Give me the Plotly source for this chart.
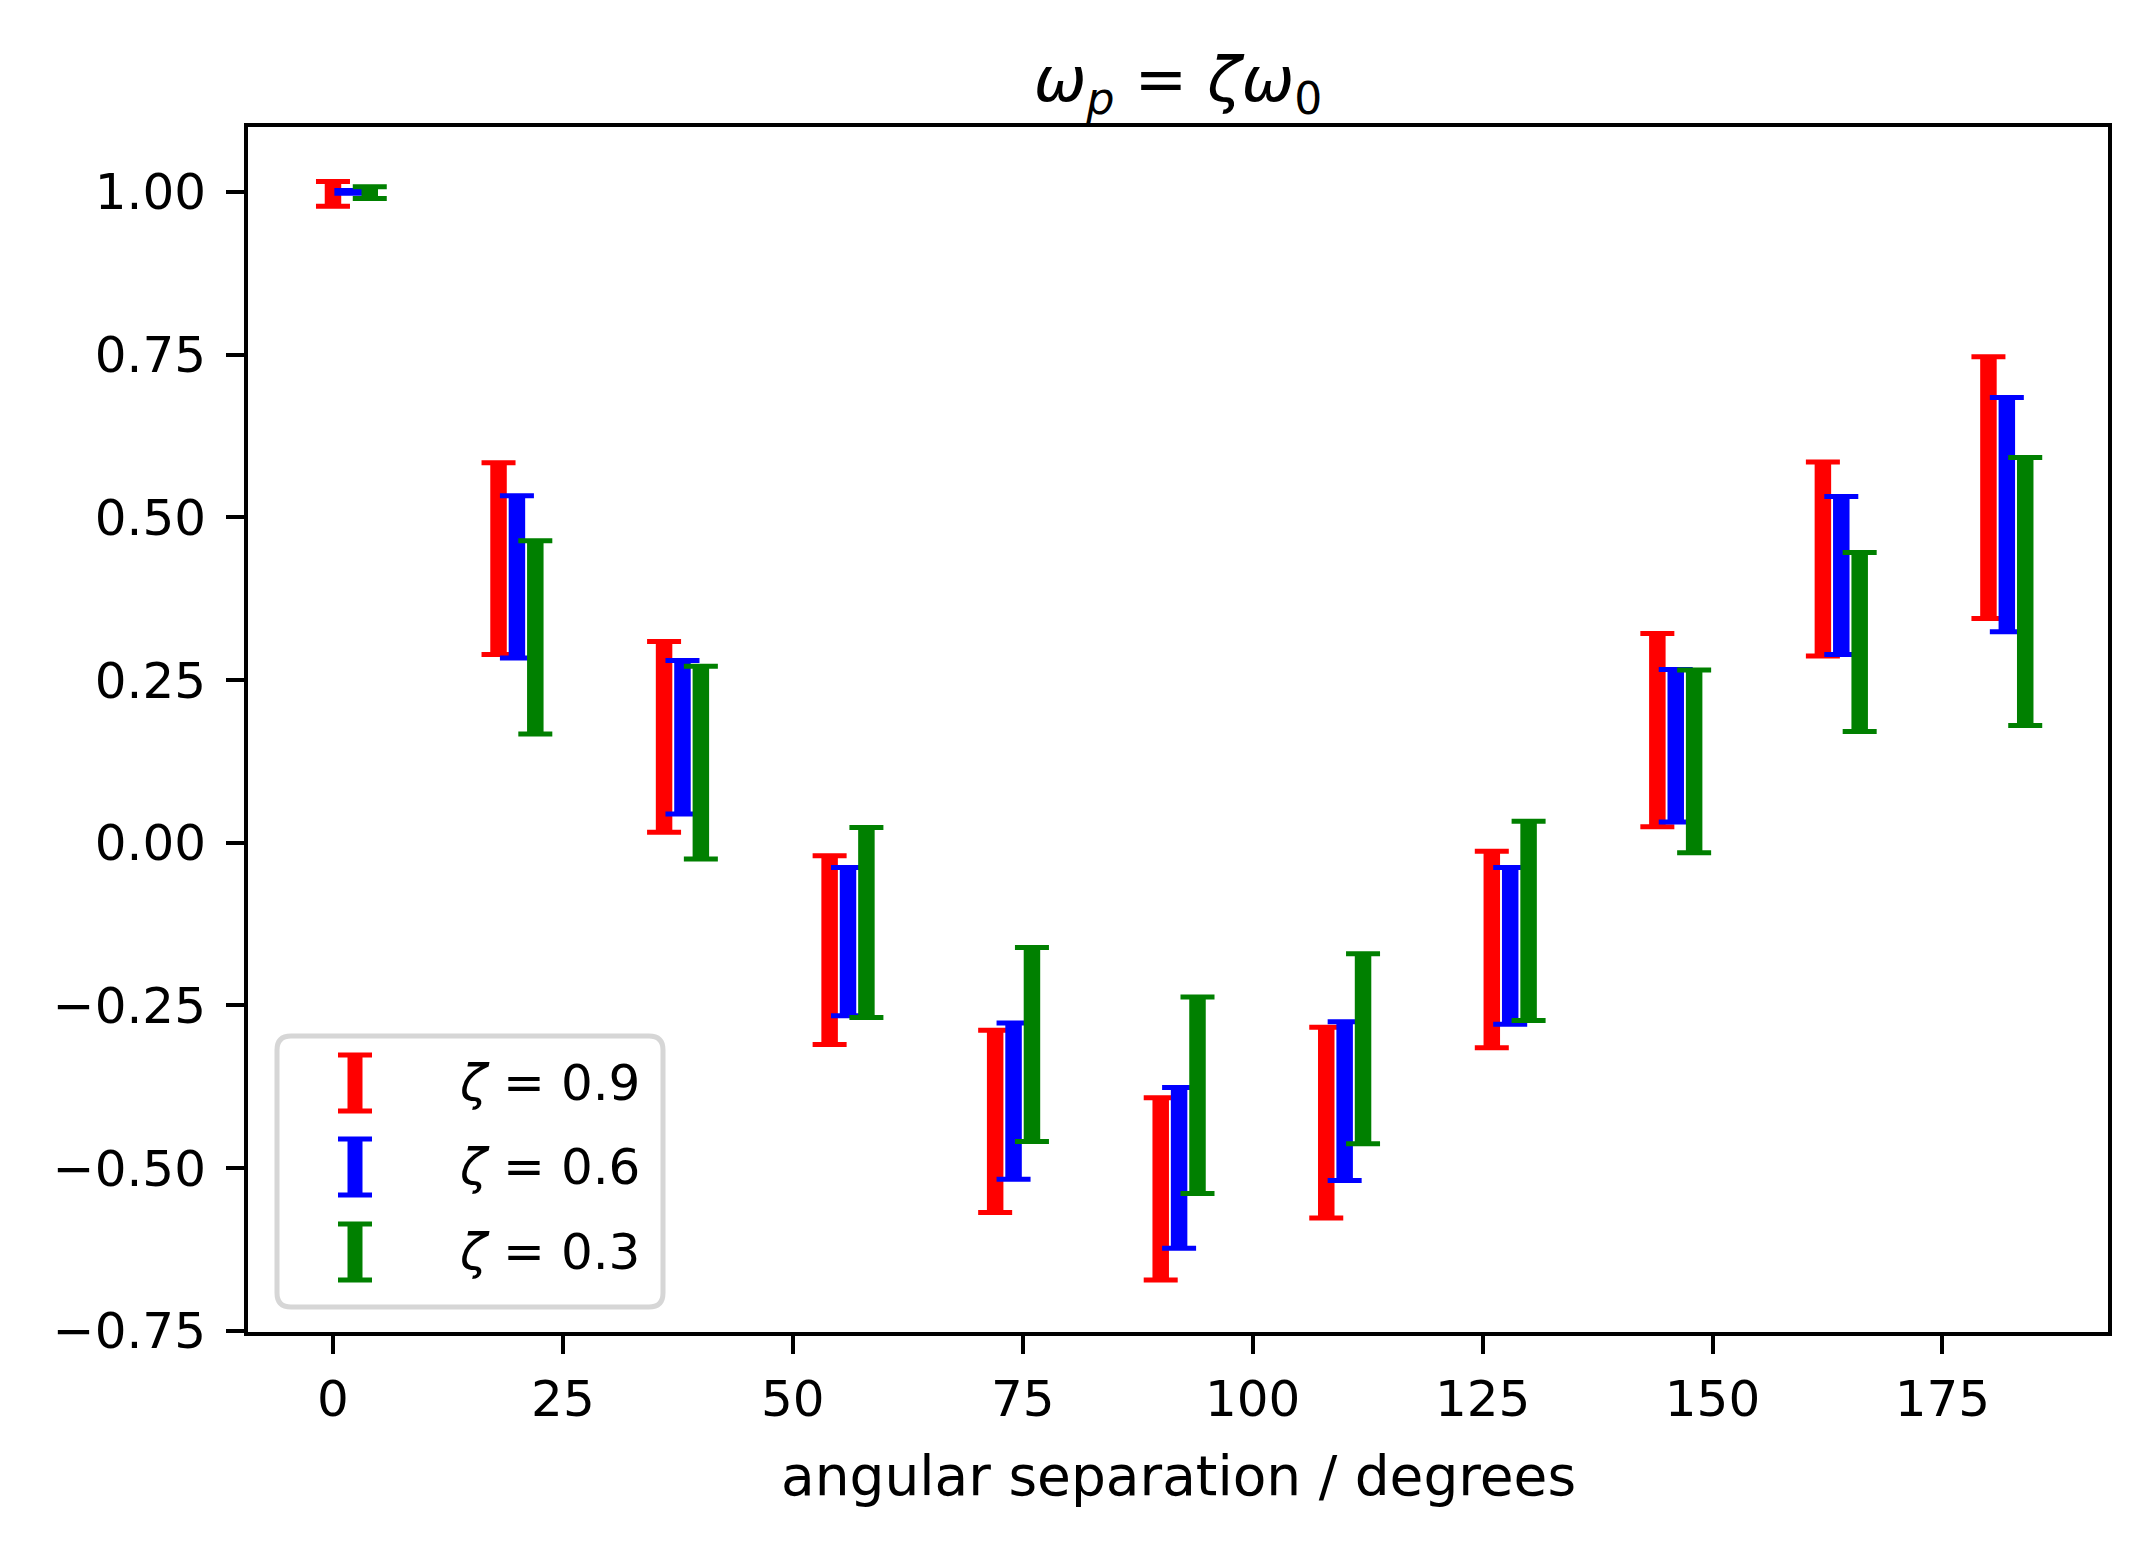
import plotly.graph_objects as go

# angular separation (degrees), each series shifted so the bars do not overlap
x_zeta09 = [0, 18, 36, 54, 72, 90, 108, 126, 144, 162, 180]
x_zeta06 = [2, 20, 38, 56, 74, 92, 110, 128, 146, 164, 182]
x_zeta03 = [4, 22, 40, 58, 76, 94, 112, 130, 148, 166, 184]

# correlation and its error
y_zeta09 = [0.997, 0.4365, 0.1625, -0.165, -0.428, -0.532, -0.430, -0.164, 0.173, 0.436, 0.5455]
e_zeta09 = [0.019, 0.1475, 0.1465, 0.145, 0.140, 0.140, 0.1465, 0.151, 0.1485, 0.149, 0.201]
y_zeta06 = [1.000, 0.4085, 0.162, -0.152, -0.397, -0.4995, -0.397, -0.1585, 0.149, 0.4105, 0.504]
e_zeta06 = [0.002, 0.1245, 0.118, 0.114, 0.120, 0.1235, 0.122, 0.1205, 0.117, 0.1215, 0.180]
y_zeta03 = [0.999, 0.3155, 0.123, -0.1225, -0.310, -0.388, -0.3167, -0.120, 0.125, 0.3085, 0.386]
e_zeta03 = [0.009, 0.1485, 0.148, 0.146, 0.149, 0.151, 0.146, 0.153, 0.1405, 0.1375, 0.206]

series_names = ["<i>ζ</i> = 0.9", "<i>ζ</i> = 0.6", "<i>ζ</i> = 0.3"]
series_colors = ["#ff0000", "#0000ff", "#008000"]

x_tickvals = [0, 25, 50, 75, 100, 125, 150, 175]
y_tickvals = [-0.75, -0.5, -0.25, 0.0, 0.25, 0.5, 0.75, 1.0]
y_ticktext = ["\u22120.75", "\u22120.50", "\u22120.25", "0.00", "0.25", "0.50", "0.75", "1.00"]

# the page body has an 8px margin, so the figure is a bit smaller than the window
OFF = 8
W, H = 2149 - OFF, 1544 - OFF
L, R, T, B = 240, 41, 119, 212
PW, PH = W - L - R, H - T - B
FONT = "DejaVu Sans"

fig = go.Figure()

series = [(x_zeta09, y_zeta09, e_zeta09), (x_zeta06, y_zeta06, e_zeta06), (x_zeta03, y_zeta03, e_zeta03)]
for (xs, ys, es), name, col in zip(series, series_names, series_colors):
    # thick bar without caps
    fig.add_trace(go.Scatter(x=xs, y=ys, mode="markers", name=name, showlegend=False,
                             marker=dict(size=1, color="rgba(0,0,0,0)"),
                             error_y=dict(type="data", array=es, visible=True,
                                          color=col, thickness=16.5, width=0),
                             hoverinfo="skip"))
    # thin caps
    fig.add_trace(go.Scatter(x=xs, y=ys, mode="markers", name=name, showlegend=False,
                             marker=dict(size=1, color="rgba(0,0,0,0)"),
                             error_y=dict(type="data", array=es, visible=True,
                                          color=col, thickness=5, width=17),
                             hoverinfo="skip"))

# hand-made legend (matplotlib style "I" symbols), positions given in screen px
def px_x(p):
    return (p - OFF - L) / PW

def px_y(p):
    return (H - B - (p - OFF)) / PH

bx0, bx1, by0, by1, r = 277, 663, 1036, 1307, 14
x0, x1, y0, y1 = px_x(bx0), px_x(bx1), px_y(by1), px_y(by0)
rx, ry = r / PW, r / PH
path = (f"M {x0 + rx},{y0} L {x1 - rx},{y0} Q {x1},{y0} {x1},{y0 + ry} "
        f"L {x1},{y1 - ry} Q {x1},{y1} {x1 - rx},{y1} L {x0 + rx},{y1} "
        f"Q {x0},{y1} {x0},{y1 - ry} L {x0},{y0 + ry} Q {x0},{y0} {x0 + rx},{y0} Z")
fig.add_shape(type="path", path=path, xref="paper", yref="paper",
              line=dict(color="#d6d6d6", width=5), fillcolor="rgba(255,255,255,0.8)", layer="above")

row_y = [1083, 1167, 1252]
sym_x = 355
for py, name, col in zip(row_y, series_names, series_colors):
    cy = px_y(py)
    hh = 28 / PH
    fig.add_shape(type="line", xref="paper", yref="paper", x0=px_x(sym_x), x1=px_x(sym_x),
                  y0=cy - hh, y1=cy + hh, line=dict(color=col, width=15), layer="above")
    for dy in (-hh, hh):
        fig.add_shape(type="line", xref="paper", yref="paper", x0=px_x(sym_x - 17), x1=px_x(sym_x + 17),
                      y0=cy + dy, y1=cy + dy, line=dict(color=col, width=5), layer="above")
    fig.add_annotation(x=px_x(457), y=cy, xref="paper", yref="paper", text=name,
                       showarrow=False, xanchor="left", yanchor="middle",
                       font=dict(family=FONT, size=50, color="black"))

fig.add_annotation(x=0.5, y=px_y(1476), xref="paper", yref="paper",
                   text="angular separation / degrees", showarrow=False,
                   xanchor="center", yanchor="middle",
                   font=dict(family=FONT, size=55, color="black"))

axis_common = dict(showline=True, linecolor="black", linewidth=4, mirror=True,
                   ticks="outside", ticklen=18, tickwidth=4, tickcolor="black",
                   showgrid=False, zeroline=False,
                   tickfont=dict(family=FONT, size=50, color="black"))

fig.update_layout(
    width=W, height=H,
    margin=dict(l=L, r=R, t=T, b=B),
    paper_bgcolor="white", plot_bgcolor="white",
    showlegend=False,
    title=dict(text="<i>ω</i><sub><i>p</i></sub> = <i>ζω</i><sub>0</sub>",
               x=0.5, xref="paper", xanchor="center",
               y=1 - 71 / H, yanchor="middle",
               font=dict(family=FONT, size=63, color="black")),
    xaxis=dict(range=[-9.24, 193.0], tickvals=x_tickvals, ticklabelstandoff=2, **axis_common),
    yaxis=dict(range=[-0.7518, 1.0997], tickvals=y_tickvals, ticktext=y_ticktext,
               ticklabelstandoff=10, **axis_common),
)

fig.write_html("out.html")
